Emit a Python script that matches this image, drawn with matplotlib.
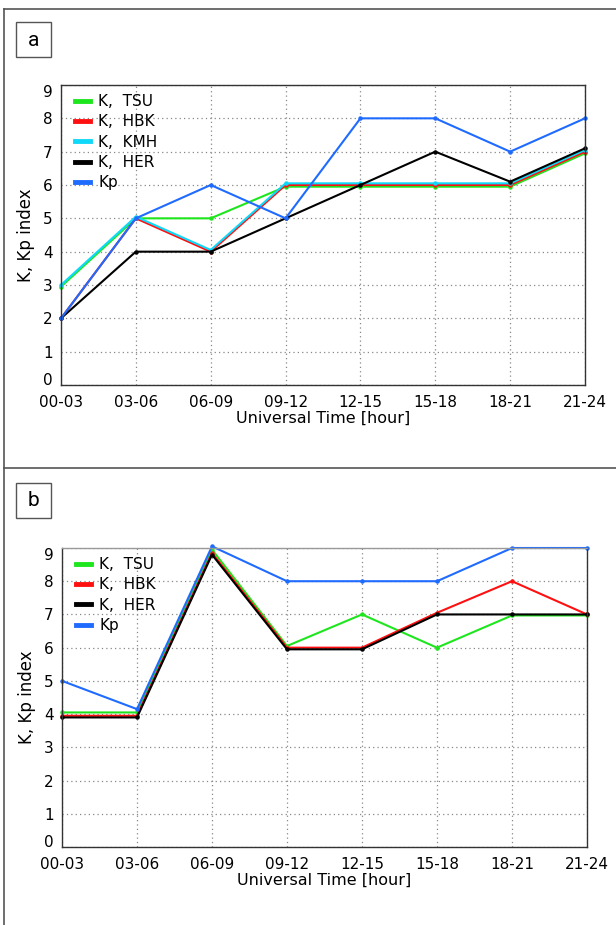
import numpy as np
import matplotlib
matplotlib.use("Agg")
import matplotlib.pyplot as plt
from matplotlib.lines import Line2D
from matplotlib.patches import Rectangle

# 3-hour UT intervals
intervals = ["00-03", "03-06", "06-09", "09-12", "12-15", "15-18", "18-21", "21-24"]

# Event a - K indices per station and planetary Kp
a_tsu = [2.95, 5.0, 5.0, 5.95, 5.95, 5.95, 5.95, 6.95]
a_hbk = [2.0, 5.0, 4.0, 6.0, 6.0, 6.0, 6.0, 7.0]
a_kmh = [3.0, 5.05, 4.05, 6.05, 6.05, 6.05, 6.05, 7.05]
a_her = [2.0, 4.0, 4.0, 5.0, 6.0, 7.0, 6.1, 7.1]
a_kp = [2.0, 5.0, 6.0, 5.0, 8.0, 8.0, 7.0, 8.0]

# Event b
b_tsu = [4.05, 4.05, 8.95, 6.05, 7.0, 6.0, 6.97, 6.97]
b_hbk = [3.95, 3.95, 8.85, 6.0, 6.0, 7.05, 8.0, 7.0]
b_her = [3.9, 3.9, 8.8, 5.95, 5.95, 7.0, 7.0, 7.0]
b_kp = [5.0, 4.15, 9.05, 8.0, 8.0, 8.0, 9.0, 9.0]

colors = {"tsu": "#1ee61e", "hbk": "#ff1010", "kmh": "#10d8f8", "her": "#000000", "kp": "#1f6bff"}

W, H = 616, 925
fig = plt.figure(figsize=(W / 100, H / 100), dpi=100)


def fx(px):
    return px / W


def fy(py):
    return 1 - py / H


def draw_panel(ax, series):
    x = np.arange(len(intervals))
    handles = []
    for vals, key, label in series:
        ax.plot(x, vals, color=colors[key], lw=1.5, marker="o", ms=2.2,
                mec=colors[key], clip_on=False)
        handles.append(Line2D([], [], color=colors[key], lw=3.5, label=label))
    ax.set_xlim(0, len(intervals) - 1)
    ax.set_ylim(0, 9)
    ax.set_xticks(x)
    ax.set_xticklabels(intervals)
    ax.set_yticks(range(10))
    ax.grid(True, color="#888888", linestyle=(0, (1, 2.5)), lw=0.9)
    ax.tick_params(length=0, labelsize=11)
    ax.tick_params(axis="x", pad=7)
    ax.tick_params(axis="y", pad=6)
    # keep the end labels inside the frame height
    ylabels = ax.get_yticklabels()
    ylabels[0].set_va("baseline")
    ylabels[-1].set_va("top")
    for s in ax.spines.values():
        s.set_color("#333333")
        s.set_linewidth(1.0)
    ax.set_xlabel("Universal Time [hour]", fontsize=11.5, labelpad=1)
    ax.set_ylabel("K, Kp index", fontsize=12, labelpad=6)
    ax.legend(handles=handles, loc="upper left", bbox_to_anchor=(0.027, 0.97),
              frameon=False, fontsize=11, handlelength=1.0, handletextpad=0.5,
              labelspacing=0.35, borderaxespad=0, borderpad=0)


ax_a = fig.add_axes([fx(61), fy(385), fx(585 - 61), (385 - 85) / H])
draw_panel(ax_a, [
    (a_tsu, "tsu", "K,  TSU"),
    (a_hbk, "hbk", "K,  HBK"),
    (a_kmh, "kmh", "K,  KMH"),
    (a_her, "her", "K,  HER"),
    (a_kp, "kp", "Kp"),
])

ax_b = fig.add_axes([fx(62), fy(847), fx(587 - 62), (847 - 548) / H])
draw_panel(ax_b, [
    (b_tsu, "tsu", "K,  TSU"),
    (b_hbk, "hbk", "K,  HBK"),
    (b_her, "her", "K,  HER"),
    (b_kp, "kp", "Kp"),
])
ax_b.spines["top"].set_color("#999999")

# outer frame and separator between the panels
frame_kw = dict(color="#555555", lw=1.2, transform=fig.transFigure)
fig.add_artist(Line2D([fx(4), 1], [fy(9), fy(9)], **frame_kw))
fig.add_artist(Line2D([fx(4), fx(4)], [fy(9), 0], **frame_kw))
fig.add_artist(Line2D([fx(4), 1], [fy(468), fy(468)], **frame_kw))

# panel letters
for letter, top in [("a", 22), ("b", 483)]:
    fig.add_artist(Rectangle((fx(16), fy(top + 35)), fx(35), 35 / H,
                             transform=fig.transFigure, fill=False,
                             edgecolor="#555555", lw=1.0))
    fig.text(fx(33.5), fy(top + 18), letter, ha="center", va="center",
             fontsize=15, family=["Liberation Sans Narrow", "Roboto"])

fig.savefig("out.png", dpi=100)
